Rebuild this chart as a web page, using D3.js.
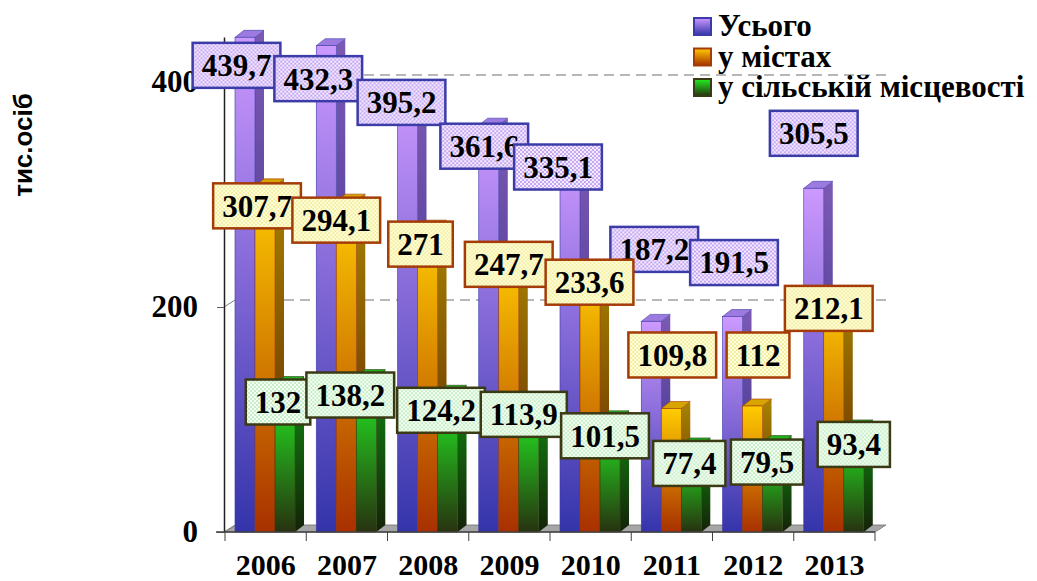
<!DOCTYPE html>
<html>
<head>
<meta charset="utf-8">
<script src="https://cdn.jsdelivr.net/npm/d3@7"></script>
<style>
  body { margin: 0; background: #fff; }
  svg { display: block; }
  .serif { font-family: "Times New Roman", "Liberation Serif", serif; font-weight: bold; }
</style>
</head>
<body>
<script>
// data
const years = ['2006', '2007', '2008', '2009', '2010', '2011', '2012', '2013'];
const total = [439.7, 432.3, 395.2, 361.6, 335.1, 187.2, 191.5, 305.5];
const urban = [307.7, 294.1, 271, 247.7, 233.6, 109.8, 112, 212.1];
const rural = [132, 138.2, 124.2, 113.9, 101.5, 77.4, 79.5, 93.4];
const seriesNames = ['Усього', 'у містах', 'у сільській місцевості'];
const yTicks = [0, 200, 400];
const yTitle = 'тис.осіб';

// label box shifts (layout only, px from bar front top-centre)
const totalShift = [[-8.5, 28], [-8, 33], [-6, 15], [-4.5, 21], [-12, 12], [3, -72], [1.5, -54], [0, -55]];
const urbanShift = [[-8, 20], [-10, 19], [-7, 17], [0, 11], [-0.5, 13], [1, -53.5], [5.5, -51], [-5, 15]];
const ruralShift = [[-7, 18.5], [-16, 18.5], [-6.5, 18], [-5, 10.5], [-5, 18], [-2, 18.5], [-5.5, 19.5], [0, 17.5]];

const w = 1037;
const h = 581;
const fmt = d3.formatLocale({ decimal: ',', thousands: ' ', grouping: [3], currency: ['', ''] }).format('~f');

const series = [
  { key: 'total', values: total, shift: totalShift,
    front: ['#cc99ff', '#3434aa'], side: ['#7c5ab4', '#2c2880'], top: '#9c7ae0', edge: '#3c3ca8',
    pat: ['#f4ecff', '#c6a8f2'], box: '#3c3ca8' },
  { key: 'urban', values: urban, shift: urbanShift,
    front: ['#ffcc00', '#a83000'], side: ['#a88400', '#5c2000'], top: '#d8a400', edge: '#a03808',
    pat: ['#ffffe0', '#f4eea0'], box: '#a43c08' },
  { key: 'rural', values: rural, shift: ruralShift,
    front: ['#22f022', '#283210'], side: ['#108c10', '#142208'], top: '#20b420', edge: '#2a4010',
    pat: ['#f6fff6', '#c8eec8'], box: '#3a3a14' }
];

const x = d3.scaleBand().domain(years).range([225, 875]);
const xs = d3.scaleBand().domain(series.map(s => s.key))
  .range([x.bandwidth() * 0.123, x.bandwidth() * 0.862]);
const y = d3.scaleLinear().domain([0, 440]).range([532, 37]);

const depth = { dx: 9, dy: -7 };
const floorDepth = { dx: 11, dy: -7 };

const svg = d3.select('body').append('svg')
  .attr('width', w)
  .attr('height', h);

const defs = svg.append('defs');
series.forEach(s => {
  const gf = defs.append('linearGradient').attr('id', 'front-' + s.key)
    .attr('x1', 0).attr('y1', 0).attr('x2', 0).attr('y2', 1);
  gf.append('stop').attr('offset', '0%').attr('stop-color', s.front[0]);
  gf.append('stop').attr('offset', '100%').attr('stop-color', s.front[1]);
  const gs = defs.append('linearGradient').attr('id', 'side-' + s.key)
    .attr('x1', 0).attr('y1', 0).attr('x2', 0).attr('y2', 1);
  gs.append('stop').attr('offset', '0%').attr('stop-color', s.side[0]);
  gs.append('stop').attr('offset', '100%').attr('stop-color', s.side[1]);
  const p = defs.append('pattern').attr('id', 'pat-' + s.key)
    .attr('width', 4).attr('height', 4).attr('patternUnits', 'userSpaceOnUse');
  p.append('rect').attr('width', 4).attr('height', 4).attr('fill', s.pat[0]);
  p.append('rect').attr('width', 2).attr('height', 2).attr('fill', s.pat[1]);
  p.append('rect').attr('x', 2).attr('y', 2).attr('width', 2).attr('height', 2).attr('fill', s.pat[1]);
});

// back wall gridlines
svg.append('g')
  .selectAll('line')
  .data(yTicks.filter(d => d > 0))
  .enter()
  .append('line')
  .attr('x1', x.range()[0] + floorDepth.dx)
  .attr('x2', x.range()[1] + floorDepth.dx)
  .attr('y1', d => y(d) + floorDepth.dy)
  .attr('y2', d => y(d) + floorDepth.dy)
  .attr('stroke', '#a0a0a0')
  .attr('stroke-width', 1.5)
  .attr('stroke-dasharray', '10,6');

// floor
const fx0 = x.range()[0];
const fx1 = x.range()[1];
const fy = y(0);
svg.append('path')
  .attr('d', `M${fx0},${fy}L${fx1},${fy}L${fx1 + floorDepth.dx},${fy + floorDepth.dy}L${fx0 + floorDepth.dx},${fy + floorDepth.dy}Z`)
  .attr('fill', '#a6a6a6')
  .attr('stroke', '#707070')
  .attr('stroke-width', 0.8);

// 3D connectors on y axis
svg.append('g')
  .selectAll('line')
  .data(yTicks)
  .enter()
  .append('line')
  .attr('x1', 224)
  .attr('x2', 224 + floorDepth.dx)
  .attr('y1', d => y(d))
  .attr('y2', d => y(d) + floorDepth.dy)
  .attr('stroke', '#808080')
  .attr('stroke-width', 1);

// bars
const bars = svg.append('g');
years.forEach((yr, i) => {
  series.forEach(s => {
    const v = s.values[i];
    const bx = x(yr) + xs(s.key);
    const bw = xs.bandwidth();
    const top = y(v);
    const base = y(0);
    const g = bars.append('g');
    g.append('path')
      .attr('d', `M${bx + bw},${top}L${bx + bw + depth.dx},${top + depth.dy}L${bx + bw + depth.dx},${base + depth.dy}L${bx + bw},${base}Z`)
      .attr('fill', `url(#side-${s.key})`);
    g.append('path')
      .attr('d', `M${bx},${top}L${bx + depth.dx},${top + depth.dy}L${bx + bw + depth.dx},${top + depth.dy}L${bx + bw},${top}Z`)
      .attr('fill', s.top)
      .attr('stroke', s.edge)
      .attr('stroke-width', 0.6);
    g.append('rect')
      .attr('x', bx)
      .attr('y', top)
      .attr('width', bw)
      .attr('height', base - top)
      .attr('fill', `url(#front-${s.key})`)
      .attr('stroke', s.edge)
      .attr('stroke-width', 0.6);
  });
});

// axes
const yAxis = d3.axisLeft(y)
  .tickValues(yTicks)
  .tickSize(7)
  .tickSizeOuter(0)
  .tickPadding(19)
  .tickFormat(d3.format('d'));

const gy = svg.append('g')
  .attr('transform', 'translate(224,0)')
  .call(yAxis);
gy.select('.domain').attr('stroke', '#202020').attr('stroke-width', 1.5);
gy.selectAll('.tick line').attr('stroke', '#606060');
gy.selectAll('.tick text')
  .attr('class', 'serif')
  .attr('font-size', 31)
  .attr('fill', '#000');

const gx = svg.append('g')
  .attr('transform', 'translate(0,' + y(0) + ')');
gx.append('line')
  .attr('x1', 216).attr('x2', x.range()[1])
  .attr('stroke', '#404040').attr('stroke-width', 1.5);
gx.selectAll('line.tk')
  .data(years.concat(['end']))
  .enter()
  .append('line')
  .attr('class', 'tk')
  .attr('x1', d => d === 'end' ? x.range()[1] : x(d))
  .attr('x2', d => d === 'end' ? x.range()[1] : x(d))
  .attr('y1', 0)
  .attr('y2', 9)
  .attr('stroke', '#404040');
gx.selectAll('text')
  .data(years)
  .enter()
  .append('text')
  .attr('class', 'serif')
  .attr('x', d => x(d) + x.bandwidth() / 2)
  .attr('y', 43)
  .attr('text-anchor', 'middle')
  .attr('font-size', 30)
  .text(d => d);

// y title
svg.append('text')
  .attr('transform', 'translate(32,145) rotate(-90)')
  .attr('text-anchor', 'middle')
  .attr('font-family', 'Arial, "Liberation Sans", sans-serif')
  .attr('font-weight', 'bold')
  .attr('font-size', 26)
  .text(yTitle);

// value labels
series.forEach(s => {
  const lg = svg.append('g');
  years.forEach((yr, i) => {
    const v = s.values[i];
    const cx = x(yr) + xs(s.key) + xs.bandwidth() / 2 + s.shift[i][0];
    const cy = y(v) + s.shift[i][1];
    const g = lg.append('g').attr('transform', `translate(${cx},${cy})`);
    const rect = g.append('rect');
    const t = g.append('text')
      .attr('class', 'serif')
      .attr('font-size', 31)
      .attr('text-anchor', 'middle')
      .attr('dy', '0.35em')
      .text(fmt(v));
    const tw = t.node().getComputedTextLength();
    rect.attr('x', -tw / 2 - 9)
      .attr('y', -22.5)
      .attr('width', tw + 18)
      .attr('height', 45)
      .attr('fill', `url(#pat-${s.key})`)
      .attr('stroke', s.box)
      .attr('stroke-width', 2.5);
  });
});

// legend
const legend = svg.append('g').attr('transform', 'translate(694,18)');
series.forEach((s, i) => {
  const row = legend.append('g').attr('transform', `translate(0,${i * 30.5})`);
  row.append('rect')
    .attr('width', 17)
    .attr('height', 17)
    .attr('fill', `url(#front-${s.key})`)
    .attr('stroke', s.box)
    .attr('stroke-width', 2);
  row.append('text')
    .attr('class', 'serif')
    .attr('x', 24)
    .attr('y', 18)
    .attr('font-size', 31)
    .text(seriesNames[i]);
});
</script>
</body>
</html>
